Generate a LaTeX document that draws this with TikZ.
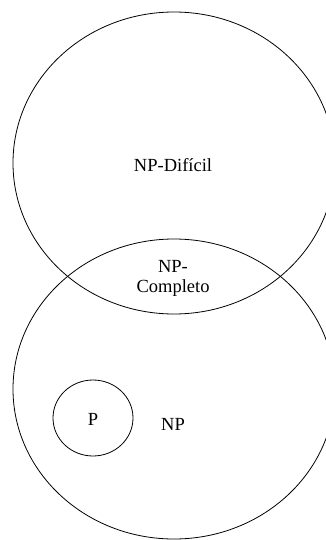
\documentclass[tikz,border=0pt]{standalone}
\usepackage{fontspec}
\setmainfont{Liberation Serif}
\begin{document}
\begin{tikzpicture}[x=1pt,y=-1pt,
  setline/.style={draw=black,line width=0.8pt},
  lbl/.style={font=\fontsize{18.5}{20}\selectfont,align=center,inner sep=0pt}]
\useasboundingbox (0,0) rectangle (326,540);
\clip (0,0) rectangle (326,540);
% NP-hard and NP sets
\draw[setline] (174,163) ellipse [x radius=161, y radius=151];
\draw[setline] (174,389) ellipse [x radius=161, y radius=150];
% P inside NP
\draw[setline] (93,418) ellipse [x radius=40, y radius=38];
\node[lbl] (hard) at (173,165) {NP-Difícil};
\node[lbl] (comp) at (173,278) {NP-\\Completo};
\node[lbl] (p) at (93,419) {P};
\node[lbl] (np) at (173,424) {NP};
\end{tikzpicture}
\end{document}
